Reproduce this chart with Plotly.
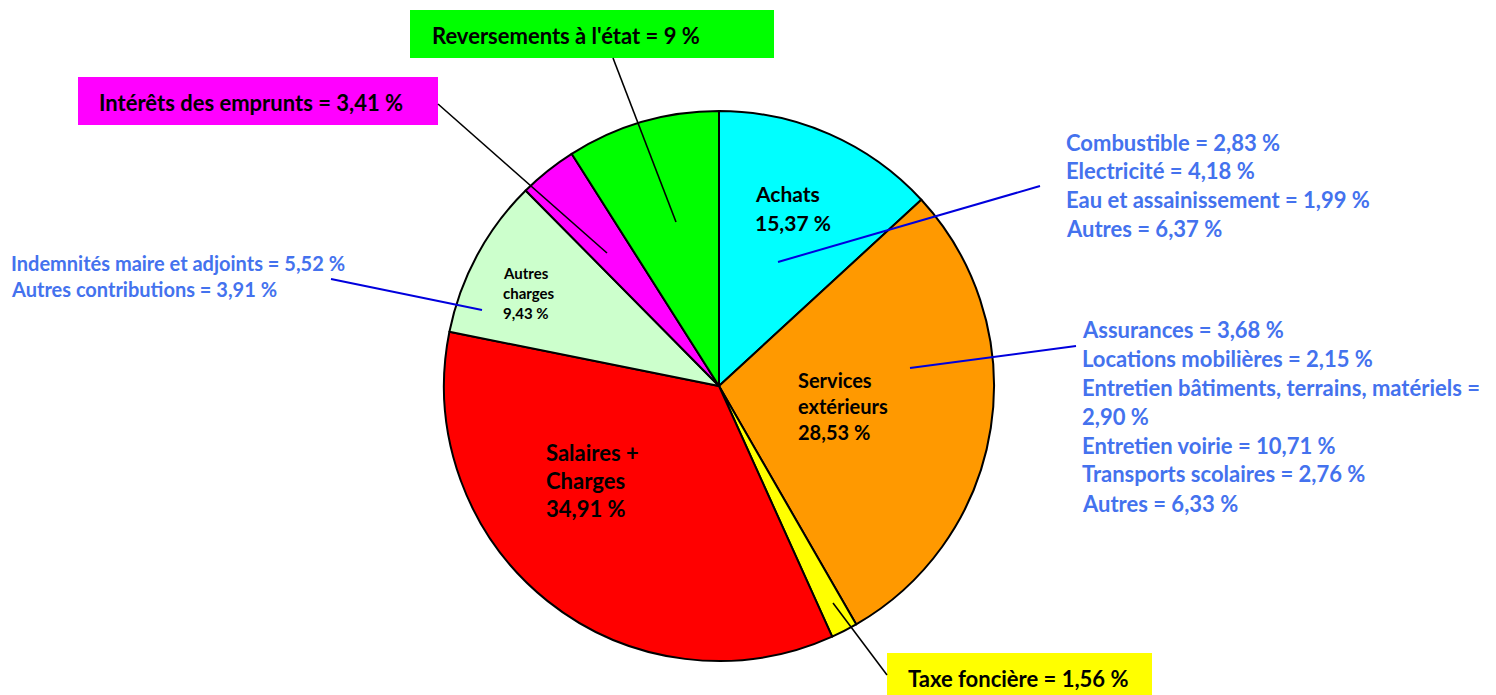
import plotly.graph_objects as go

W, H = 1496, 695

# ---- data ----
categories = ["Achats", "Services extérieurs", "Taxe foncière", "Salaires + Charges",
              "Autres charges", "Intérêts des emprunts", "Reversements à l'état"]
# slice sizes as drawn in the picture (Achats wedge spans ~13.2 % of the circle)
slice_values = [13.16, 28.53, 1.56, 34.91, 9.43, 3.41, 9.00]
label_pcts = ["15,37 %", "28,53 %", "1,56 %", "34,91 %", "9,43 %", "3,41 %", "9 %"]
slice_colors = ["#00FFFF", "#FF9900", "#FFFF00", "#FF0000", "#CCFFCC", "#FF00FF", "#00FF00"]

achats_details = ["Combustible = 2,83 %", "Electricité = 4,18 %",
                  "Eau et assainissement = 1,99 %", "Autres = 6,37 %"]
services_details = ["Assurances = 3,68 %", "Locations mobilières = 2,15 %",
                    "Entretien bâtiments, terrains, matériels =", "2,90 %",
                    "Entretien voirie = 10,71 %", "Transports scolaires = 2,76 %",
                    "Autres = 6,33 %"]
autres_details = ["Indemnités maire et adjoints = 5,52 %", "Autres contributions = 3,91 %"]

FONT = "Lato"
BLUE = "#4472EE"
LINE_BLUE = "#0000DD"


def px(x):
    return x / W


def py(y):
    return 1 - y / H


# pie placement (pixels)
cx, cy, r = 719, 386, 275

fig = go.Figure()
fig.add_trace(go.Pie(
    labels=categories,
    values=slice_values,
    sort=False,
    direction="clockwise",
    rotation=0,
    textinfo="none",
    hoverinfo="label+percent",
    marker=dict(colors=slice_colors, line=dict(color="black", width=2)),
    domain=dict(x=[px(cx - r), px(cx + r)], y=[py(cy + r), py(cy - r)]),
    showlegend=False,
))

shapes = []
annotations = []


def line(x0, y0, x1, y1, color, width=1.6):
    shapes.append(dict(type="line", xref="paper", yref="paper",
                       x0=px(x0), y0=py(y0), x1=px(x1), y1=py(y1),
                       line=dict(color=color, width=width)))


def text(x, y, s, size, color="black", anchor="left"):
    annotations.append(dict(xref="paper", yref="paper", x=px(x), y=py(y), text=s,
                            showarrow=False, xanchor=anchor, yanchor="middle",
                            font=dict(family=FONT, size=size, color=color, weight="bold")))


def box(x0, y0, x1, y1, color):
    shapes.append(dict(type="rect", xref="paper", yref="paper",
                       x0=px(x0), y0=py(y0), x1=px(x1), y1=py(y1),
                       fillcolor=color, line=dict(width=0), layer="below"))


# in-slice labels
text(753, 193, categories[0], 21)
text(753, 222, label_pcts[0], 21)
text(796, 380, "Services", 20)
text(796, 406, "extérieurs", 20)
text(796, 432, label_pcts[1], 20)
text(544, 452, "Salaires +", 22)
text(544, 480, "Charges", 22)
text(544, 508, label_pcts[3], 22)
text(501, 273, "Autres", 15)
text(501, 293, "charges", 15)
text(501, 313, label_pcts[4], 15)

# callout boxes
box(410, 10, 774, 58, slice_colors[6])
text(566, 35, categories[6] + " = " + label_pcts[6], 22, anchor="center")
box(78, 77, 438, 125, slice_colors[5])
text(251, 102, categories[5] + " = " + label_pcts[5], 22, anchor="center")
box(887, 653, 1152, 700, slice_colors[2])
text(1018, 678, categories[2] + " = " + label_pcts[2], 22, anchor="center")

# black leader lines
line(613, 58, 676, 222, "black")
line(438, 104, 607, 253, "black")
line(833, 603, 887, 675, "black")

# blue leader lines
line(778, 262, 1040, 186, LINE_BLUE, 2)
line(910, 368, 1076, 346, LINE_BLUE, 2)
line(331, 279, 482, 310, LINE_BLUE, 2)

# blue detail lists
for i, s in enumerate(achats_details):
    text(1064, 142 + i * 28.7, s, 22, BLUE)
for i, s in enumerate(services_details):
    text(1080, 329 + i * 29, s, 22, BLUE)
for i, s in enumerate(autres_details):
    text(9, 263 + i * 26, s, 20, BLUE)

fig.update_layout(
    width=W, height=H,
    margin=dict(l=0, r=0, t=0, b=0),
    paper_bgcolor="white", plot_bgcolor="white",
    shapes=shapes, annotations=annotations,
    showlegend=False,
)

fig.write_html("out.html", config={"displayModeBar": False},
               post_script="document.body.style.margin='0';")
